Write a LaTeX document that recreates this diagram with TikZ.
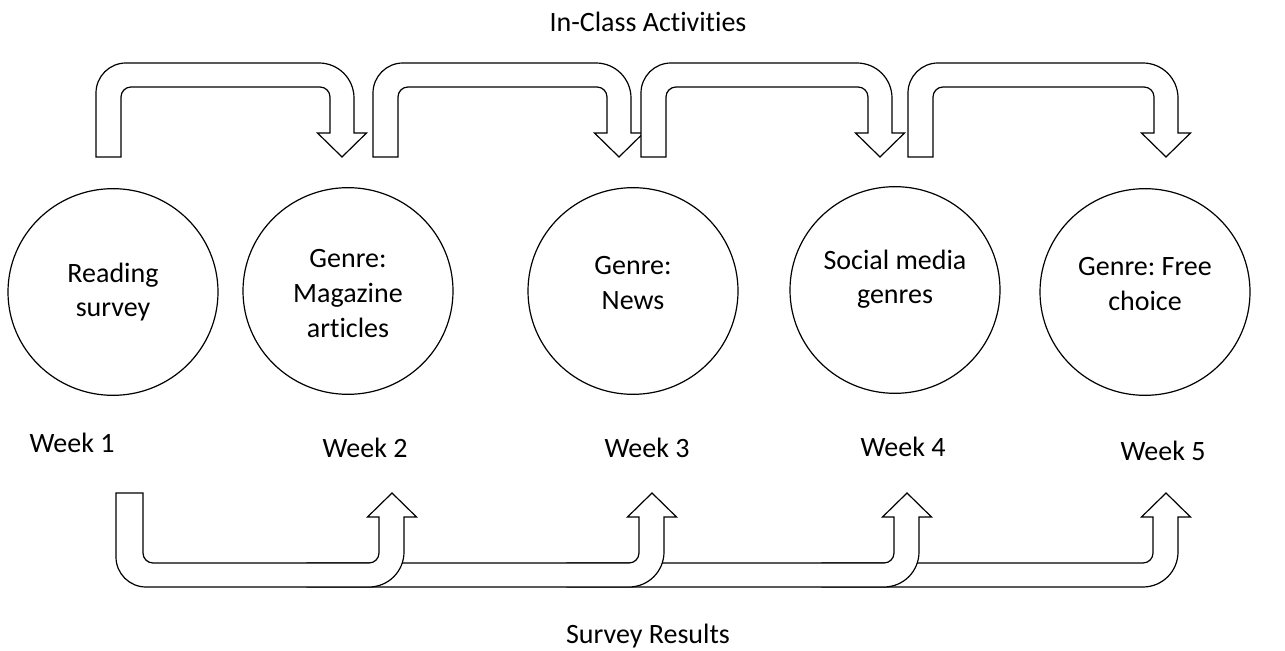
\documentclass[tikz,border=0pt]{standalone}
\usepackage{fontspec}
\setmainfont{Carlito}[Ligatures=NoCommon]
\usepackage{tikz}
\usetikzlibrary{shapes.geometric}
\frenchspacing

\begin{document}
\begin{tikzpicture}[x=0.75pt,y=0.75pt,
  phase/.style={draw,line width=0.9pt,ellipse,minimum width=157.5pt,minimum height=155pt},
  txt/.style={align=center,font=\fontsize{21}{26}\selectfont},
  band/.style={draw,fill=white,line width=0.9pt,line join=miter}]
  \useasboundingbox (0,0) rectangle (1285,650); % 余白込みの全体の大きさ
  \node[txt] (top) at (648,628) {In-Class Activities}; % 上の見出し
  \node[txt] (bot) at (648,14) {Survey Results}; % 下の見出し
  \node[phase] (e1) at (113,358) {}; % 各週の楕円
  \node[phase] (e2) at (348,359) {};
  \node[phase] (e3) at (633,359) {};
  \node[phase] (e4) at (895,360) {};
  \node[phase] (e5) at (1145,358) {};
  \node[txt] (t1) at (e1) {Reading\\survey};
  \node[txt] (t2) at ([yshift=-2pt]e2) {Genre:\\Magazine\\articles};
  \node[txt] (t3) at ([yshift=6pt]e3) {Genre:\\News};
  \node[txt] (t4) at ([yshift=8pt]e4) {Social media\\genres};
  \node[txt] (t5) at ([yshift=6pt]e5) {Genre: Free\\choice};
  \node[txt] (w1) at (72,207) {Week 1}; % 週の番号
  \node[txt] (w2) at (365,202) {Week 2};
  \node[txt] (w3) at (647,202) {Week 3};
  \node[txt] (w4) at (903,203) {Week 4};
  \node[txt] (w5) at (1163,199) {Week 5};
  \foreach \L/\T in {96/342,373/619,641/880,908/1166}
    \draw[band] (\L,493) -- (\L,557) arc[start angle=180,end angle=90,radius=22.5pt]
      -- ({\T-23},587) arc[start angle=90,end angle=0,radius=26.25pt]
      -- ({\T+12},517) -- ({\T+24.5},517) -- (\T,493) -- ({\T-24.5},517) -- ({\T-12},517)
      -- ({\T-12},553) arc[start angle=0,end angle=90,radius=7.5pt]
      -- ({\L+35},563) arc[start angle=90,end angle=180,radius=7.5pt]
      -- ({\L+25},493) -- cycle; % 上側の曲がり矢印（授業内の活動）
  \foreach \S/\T in {822/1166,567/907,307/652}
    \draw[band] (\S,63) -- ({\T-23},63) arc[start angle=270,end angle=360,radius=26.25pt]
      -- ({\T+12},133) -- ({\T+24.5},133) -- (\T,157) -- ({\T-24.5},133) -- ({\T-13},133)
      -- ({\T-13},97) arc[start angle=0,end angle=-90,radius=7.5pt]
      -- (\S,87) -- cycle; % 下側の帯（左端は一つ前の矢印に隠れる）
  \draw[band] (116,157) -- (116,93) arc[start angle=180,end angle=270,radius=22.5pt]
    -- (369,63) arc[start angle=270,end angle=360,radius=26.25pt]
    -- (404,133) -- (416.5,133) -- (392,157) -- (367.5,133) -- (379,133)
    -- (379,97) arc[start angle=0,end angle=-90,radius=7.5pt]
    -- (153,87) arc[start angle=270,end angle=180,radius=7.5pt]
    -- (143,157) -- cycle; % 最初の下側矢印（アンケート結果）
\end{tikzpicture}
\end{document}
